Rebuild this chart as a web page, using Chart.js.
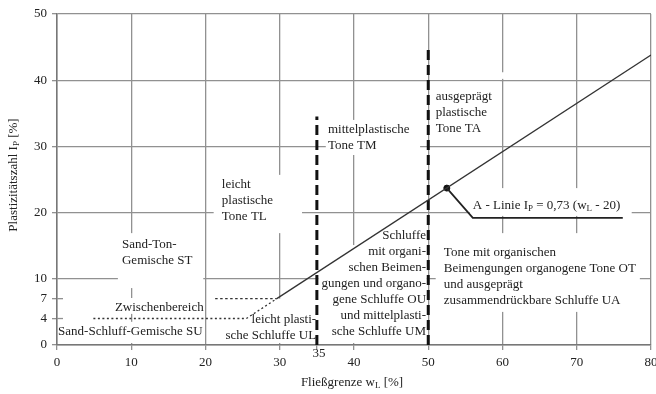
<!DOCTYPE html>
<html>
<head>
<meta charset="utf-8">
<script src="https://cdn.jsdelivr.net/npm/chart.js@4.4.0/dist/chart.umd.min.js"></script>
<style>
html, body { margin: 0; padding: 0; background: #fff; }
#wrap { width: 656px; height: 394px; }
</style>
</head>
<body>
<div id="wrap"><canvas id="plasticity" width="656" height="394"></canvas></div>
<script>
const xTicks = [0, 10, 20, 30, 35, 40, 50, 60, 70, 80];
const yTicks = [0, 4, 7, 10, 20, 30, 40, 50];

// A-Linie Ip = 0,73 (wL - 20), ab Ip = 7
const aLineWl = [29.6, 80];
const aLineIp = [7, 43.8];
// gepunktete Fortsetzung zwischen Ip = 4 und Ip = 7
const aExtWl = [25.5, 29.6];
const aExtIp = [4, 7];
const ip4Wl = [4.9, 25.5];
const ip4Ip = [4, 4];
const ip7Wl = [21.3, 29.6];
const ip7Ip = [7, 7];
const wl35Wl = [35, 35];
const wl35Ip = [0, 34.5];
const wl50Wl = [50, 50];
const wl50Ip = [0, 45];
const markerWl = [52.5];
const markerIp = [23.7];
const leaderWl = [52.5, 56, 76.2];
const leaderIp = [23.7, 19.2, 19.2];

const serif = '"Liberation Serif", "DejaVu Serif", serif';
const textColor = '#222';
const gridColor = '#919191';

const pts = (xs, ys) => xs.map((x, i) => ({ x, y: ys[i] }));

// text blocks: first line position in data units, following lines 16px lower
const blocks = [
  { lines: ['Sand-Ton-', 'Gemische ST'], x: 8.75, y: 15.1, align: 'left', boxes: [[8.2, 19.7, 16.9, 8.6]] },
  { lines: ['Zwischenbereich'], x: 7.8, y: 5.7, align: 'left', boxes: [[7.4, 19.9, 7.1, 4.7]] },
  { lines: ['Sand-Schluff-Gemische SU'], x: 0.15, y: 2.0, align: 'left', boxes: [[0.3, 19.8, 3.5, 0.3]] },
  { lines: ['leicht', 'plastische', 'Tone TL'], x: 22.2, y: 24.2, align: 'left', boxes: [[21.1, 33.0, 25.7, 16.9]] },
  { lines: ['mittelplastische', 'Tone TM'], x: 36.5, y: 32.5, align: 'left', boxes: [[36.2, 48.9, 34.0, 28.7]] },
  { lines: ['ausgeprägt', 'plastische', 'Tone TA'], x: 51.0, y: 37.5, align: 'left', boxes: [[50.2, 59.7, 39.8, 31.0], [59.5, 60.5, 41.2, 40.2]] },
  { lines: ['Schluffe', 'mit organi-', 'schen Beimen-', 'gungen und organo-', 'gene Schluffe OU', 'und mittelplasti-', 'sche Schluffe UM'], x: 49.7, y: 16.5, align: 'right', boxes: [[35.2, 49.8, 15.1, 0.3]] },
  { lines: ['leicht plasti-', 'sche Schluffe UL'], x: 34.9, y: 3.8, align: 'right', boxes: [[25.7, 34.9, 5.3, 0.3], [29.5, 30.5, 7.0, 5.0]] },
  { lines: ['Tone mit organischen', 'Beimengungen organogene Tone OT', 'und ausgeprägt', 'zusammendrückbare Schluffe UA'], x: 52.1, y: 14.0, align: 'left', boxes: [[51.0, 78.5, 16.9, 5.0]] }
];
const aLabelBox = [55.6, 77.4, 23.7, 19.5];

function drawRich(ctx, parts, x, y, size) {
  let cx = x;
  parts.forEach(([t, sub]) => {
    ctx.font = (sub ? size - 4 : size) + 'px ' + serif;
    ctx.fillText(t, cx, sub ? y + 3 : y);
    cx += ctx.measureText(t).width;
  });
}

function richWidth(ctx, parts, size) {
  let w = 0;
  parts.forEach(([t, sub]) => {
    ctx.font = (sub ? size - 4 : size) + 'px ' + serif;
    w += ctx.measureText(t).width;
  });
  return w;
}

const annotations = {
  id: 'annotations',
  beforeDatasetsDraw(chart) {
    const { ctx, scales: { x, y } } = chart;
    ctx.save();
    ctx.fillStyle = '#fff';
    const boxes = blocks.flatMap(b => b.boxes).concat([aLabelBox]);
    boxes.forEach(([x0, x1, y0, y1]) => {
      const px0 = x.getPixelForValue(x0), px1 = x.getPixelForValue(x1);
      const py0 = y.getPixelForValue(y0), py1 = y.getPixelForValue(y1);
      ctx.fillRect(px0, py0, px1 - px0, py1 - py0);
    });
    // small inner ticks at Ip = 4 and 7
    ctx.strokeStyle = gridColor;
    ctx.lineWidth = 1.3;
    [4, 7].forEach(v => {
      const py = y.getPixelForValue(v);
      ctx.beginPath();
      ctx.moveTo(x.left, py);
      ctx.lineTo(x.left + 6, py);
      ctx.stroke();
    });
    ctx.restore();
  },
  afterDatasetsDraw(chart) {
    const { ctx, scales: { x, y } } = chart;
    ctx.save();
    ctx.fillStyle = textColor;
    ctx.textBaseline = 'middle';
    ctx.font = '13px ' + serif;
    blocks.forEach(b => {
      ctx.textAlign = b.align;
      const px = x.getPixelForValue(b.x);
      const py = y.getPixelForValue(b.y);
      b.lines.forEach((line, i) => ctx.fillText(line, px, py + i * 16));
    });

    // A-Linie label
    ctx.textAlign = 'left';
    drawRich(ctx, [['A - Linie I'], ['P', true], [' = 0,73 (w'], ['L', true], [' - 20)']],
      x.getPixelForValue(56.0), y.getPixelForValue(21.0), 13);

    // raised tick label 35
    ctx.font = '13px ' + serif;
    ctx.textAlign = 'center';
    ctx.fillText('35', x.getPixelForValue(35) + 2, 354);

    // x axis title
    const xParts = [['Fließgrenze w'], ['L', true], [' [%]']];
    const xw = richWidth(ctx, xParts, 13);
    ctx.textAlign = 'left';
    drawRich(ctx, xParts, (x.left + x.right) / 2 - 2 - xw / 2, 383, 13);

    // y axis title
    const yParts = [['Plastizitätszahl I'], ['P', true], [' [%]']];
    const yw = richWidth(ctx, yParts, 13);
    ctx.translate(14, 175);
    ctx.rotate(-Math.PI / 2);
    drawRich(ctx, yParts, -yw / 2, 0, 13);
    ctx.restore();
  }
};

const lineSet = (data, color, width, dash) => ({
  data, showLine: true, borderColor: color, borderWidth: width,
  borderDash: dash || [], pointRadius: 0, fill: false
});

new Chart(document.getElementById('plasticity'), {
  type: 'scatter',
  data: {
    datasets: [
      lineSet(pts(aLineWl, aLineIp), '#333', 1.3),
      lineSet(pts(aExtWl, aExtIp), '#333', 1.3, [2, 2.5]),
      lineSet(pts(ip4Wl, ip4Ip), '#333', 1.3, [2, 2.5]),
      lineSet(pts(ip7Wl, ip7Ip), '#333', 1.3, [2.5, 2.5]),
      lineSet(pts(wl35Wl, wl35Ip), '#111', 3, [10, 5]),
      lineSet(pts(wl50Wl, wl50Ip), '#111', 3, [10, 5]),
      lineSet(pts(leaderWl, leaderIp), '#222', 1.8),
      {
        data: pts(markerWl, markerIp), pointRadius: 3,
        pointBackgroundColor: '#111', pointBorderColor: '#111', showLine: false
      }
    ]
  },
  options: {
    responsive: false,
    animation: false,
    layout: { padding: { top: 14, right: 5, left: 0, bottom: 0 } },
    plugins: { legend: { display: false }, tooltip: { enabled: false } },
    scales: {
      x: {
        type: 'linear', min: 0, max: 80,
        afterBuildTicks: s => { s.ticks = xTicks.map(v => ({ value: v })); },
        afterFit: s => { s.height = 49; s.paddingRight = 0; s.paddingLeft = 0; },
        grid: {
          color: c => (c.tick && c.tick.value === 35) ? 'rgba(0,0,0,0)' : gridColor,
          lineWidth: 1.3, tickLength: 5, tickColor: gridColor
        },
        border: { color: '#777', width: 1.5 },
        ticks: {
          padding: 5,
          color: c => (c.tick && c.tick.value === 35) ? 'rgba(0,0,0,0)' : textColor,
          font: { family: serif, size: 13 },
          maxRotation: 0, autoSkip: false
        },
        title: { display: false }
      },
      y: {
        type: 'linear', min: 0, max: 50,
        afterBuildTicks: s => { s.ticks = yTicks.map(v => ({ value: v })); },
        afterFit: s => { s.width = 57; s.paddingTop = 0; s.paddingBottom = 0; },
        grid: {
          color: c => (c.tick && (c.tick.value === 4 || c.tick.value === 7)) ? 'rgba(0,0,0,0)' : gridColor,
          lineWidth: 1.3, tickLength: 5, tickColor: gridColor
        },
        border: { color: '#777', width: 1.5 },
        ticks: {
          padding: 5,
          color: textColor,
          font: { family: serif, size: 13 },
          autoSkip: false
        },
        title: { display: false }
      }
    }
  },
  plugins: [annotations]
});
</script>
</body>
</html>
